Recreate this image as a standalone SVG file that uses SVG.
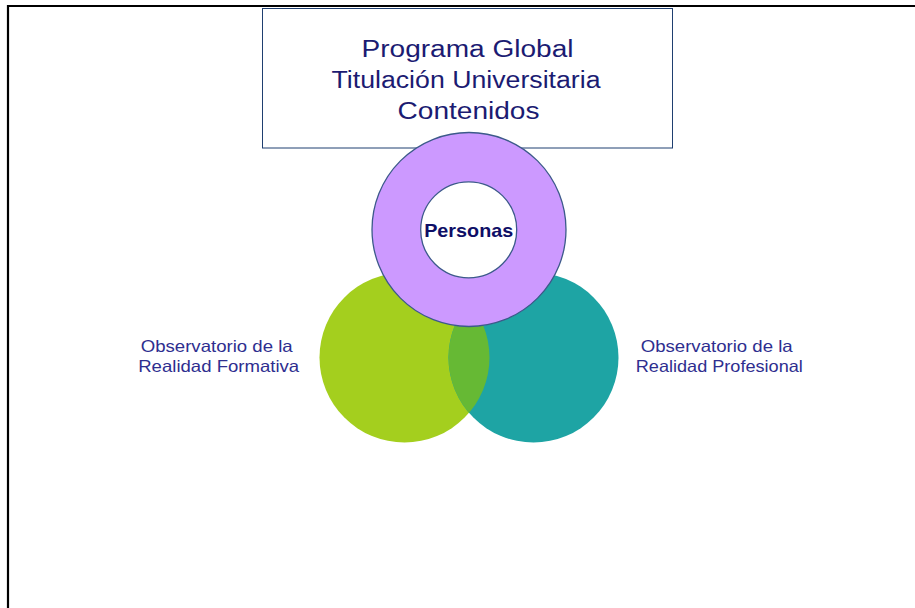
<svg xmlns="http://www.w3.org/2000/svg" width="915" height="608" viewBox="0 0 915 608">
<style>
.title{font-family:"Liberation Sans",Arial,sans-serif;font-size:23px;fill:#1b1b72;text-anchor:middle}
.lbl{font-family:"Liberation Sans",Arial,sans-serif;font-size:16.5px;fill:#2e2e8f;text-anchor:middle}
.bold{font-family:"Liberation Sans",Arial,sans-serif;font-size:19px;font-weight:bold;fill:#0e0e66;text-anchor:middle}
</style>
<defs>
<clipPath id="clipG"><circle cx="404.5" cy="357.5" r="85"/></clipPath>
</defs>
<rect width="915" height="608" fill="#ffffff"/>
<path d="M8,608 V6 H915" fill="none" stroke="#000" stroke-width="2.2"/>
<g id="title">
<rect x="262.5" y="8.5" width="410" height="139.5" fill="#fff" stroke="#1f3f70" stroke-width="1"/>
<text class="title" x="467.5" y="56.5" textLength="212" lengthAdjust="spacingAndGlyphs">Programa Global</text>
<text class="title" x="466" y="87.5" textLength="269" lengthAdjust="spacingAndGlyphs">Titulación Universitaria</text>
<text class="title" x="468.5" y="118.5" textLength="142" lengthAdjust="spacingAndGlyphs">Contenidos</text>
</g>
<g id="formativa">
<circle cx="404.5" cy="357.5" r="85" fill="#a4cf1e"/>
<text class="lbl" x="216.7" y="352.3" textLength="152" lengthAdjust="spacingAndGlyphs">Observatorio de la</text>
<text class="lbl" x="218.7" y="371.7" textLength="161" lengthAdjust="spacingAndGlyphs">Realidad Formativa</text>
</g>
<g id="profesional">
<circle cx="533.5" cy="357.5" r="85" fill="#1ea4a4"/>
<circle cx="533.5" cy="357.5" r="85" fill="#66b934" clip-path="url(#clipG)"/>
<text class="lbl" x="716.7" y="352.3" textLength="152" lengthAdjust="spacingAndGlyphs">Observatorio de la</text>
<text class="lbl" x="719.3" y="371.7" textLength="167" lengthAdjust="spacingAndGlyphs">Realidad Profesional</text>
</g>
<g id="personas">
<circle cx="469" cy="229.5" r="97" fill="#cc99ff" stroke="#3c5a8a" stroke-width="1.3"/>
<circle cx="468.7" cy="229.8" r="48" fill="#ffffff" stroke="#3c5a8a" stroke-width="1.3"/>
<text class="bold" x="468.7" y="237.3" textLength="89" lengthAdjust="spacingAndGlyphs">Personas</text>
</g>
<g id="connectors"></g>
</svg>
